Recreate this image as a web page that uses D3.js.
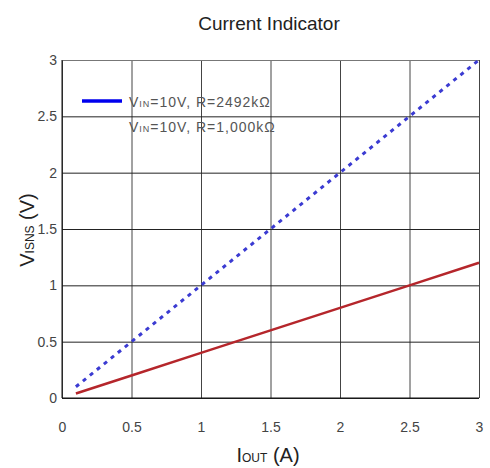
<!DOCTYPE html>
<html>
<head>
<meta charset="utf-8">
<script src="https://cdn.jsdelivr.net/npm/d3@7"></script>
<style>
  body { margin: 0; background: #fff; }
  svg { font-family: "Liberation Sans", Arial, sans-serif; }
</style>
</head>
<body>
<div class="chart"></div>
<script>
const FRAME_WIDTH = 490;
const FRAME_HEIGHT = 468;
const MARGINS = {left: 62, right: 11, top: 60, bottom: 70};

// data
const IOUT = [0.1, 0.5, 1, 1.5, 2, 2.5, 3];
const VSNS_2492 = [0.1, 0.5, 1, 1.5, 2, 2.5, 3];
const VSNS_1000 = [0.04, 0.2, 0.4, 0.6, 0.8, 1.0, 1.2];
const X_TICKS = [0, 0.5, 1, 1.5, 2, 2.5, 3];
const Y_TICKS = [0, 0.5, 1, 1.5, 2, 2.5, 3];
const LEGEND_LABELS = [["10V", "2492k\u03A9"], ["10V", "1,000k\u03A9"]];

const PLOT_WIDTH = FRAME_WIDTH - MARGINS.left - MARGINS.right;
const PLOT_HEIGHT = FRAME_HEIGHT - MARGINS.top - MARGINS.bottom;

const svg = d3.select(".chart")
              .append("svg")
              .attr("width", FRAME_WIDTH)
              .attr("height", FRAME_HEIGHT);

const X_SCALE = d3.scaleLinear().domain([0, 3]).range([0, PLOT_WIDTH]);
const Y_SCALE = d3.scaleLinear().domain([0, 3]).range([PLOT_HEIGHT, 0]);

const plot = svg.append("g")
                .attr("transform", "translate(" + MARGINS.left + "," + MARGINS.top + ")");

// grid + tick labels
const xAxis = plot.append("g")
    .attr("transform", "translate(0," + PLOT_HEIGHT + ")")
    .call(d3.axisBottom(X_SCALE).tickValues(X_TICKS)
            .tickSize(-PLOT_HEIGHT).tickPadding(24).tickFormat(d3.format("")));
xAxis.select(".domain").remove();
xAxis.selectAll("line").attr("stroke", "#444");
xAxis.selectAll("text").attr("font-size", "14px").attr("fill", "#444")
     .attr("font-family", "Liberation Sans, Arial, sans-serif");

const yAxis = plot.append("g")
    .call(d3.axisLeft(Y_SCALE).tickValues(Y_TICKS)
            .tickSize(-PLOT_WIDTH).tickPadding(5).tickFormat(d3.format("")));
yAxis.select(".domain").remove();
yAxis.selectAll("line").attr("stroke", (d) => d === 3 ? "#777" : "#222");
yAxis.selectAll("text").attr("font-size", "14px").attr("fill", "#444")
     .attr("font-family", "Liberation Sans, Arial, sans-serif");

// frame
plot.append("line").attr("x1", 0).attr("x2", 0).attr("y1", 0).attr("y2", PLOT_HEIGHT)
    .attr("stroke", "#111");
plot.append("line").attr("x1", 0).attr("x2", PLOT_WIDTH).attr("y1", PLOT_HEIGHT).attr("y2", PLOT_HEIGHT)
    .attr("stroke", "#111");

// series
const lineGen = (vals) => d3.line()
    .x((d, i) => X_SCALE(IOUT[i]))
    .y((d) => Y_SCALE(d))(vals);

plot.append("path")
    .attr("d", lineGen(VSNS_1000))
    .attr("fill", "none")
    .attr("stroke", "#b5262b")
    .attr("stroke-width", 2.5);

plot.append("path")
    .attr("d", lineGen(VSNS_2492))
    .attr("fill", "none")
    .attr("stroke", "#3b3bd2")
    .attr("stroke-width", 3)
    .attr("stroke-dasharray", "4,5");

// legend
svg.append("line")
   .attr("x1", 82).attr("x2", 122).attr("y1", 101).attr("y2", 101)
   .attr("stroke", "#0000ee").attr("stroke-width", 3.5);

LEGEND_LABELS.forEach((lab, i) => {
    const t = svg.append("text")
        .attr("x", 129).attr("y", 107 + i * 25)
        .attr("font-size", "14px").attr("fill", "#555")
        .attr("letter-spacing", "1px");
    t.append("tspan").text("V");
    t.append("tspan").attr("font-size", "9px").text("IN");
    t.append("tspan").text("=" + lab[0] + ", R=" + lab[1]);
});

// title
svg.append("text")
   .attr("x", 269).attr("y", 30)
   .attr("text-anchor", "middle")
   .attr("font-size", "19px").attr("fill", "#222")
   .text("Current Indicator");

// x label
const xl = svg.append("text")
   .attr("x", 268).attr("y", 462)
   .attr("text-anchor", "middle")
   .attr("font-size", "20px").attr("fill", "#222");
xl.append("tspan").text("I");
xl.append("tspan").attr("font-size", "12px").text("OUT");
xl.append("tspan").text(" (A)");

// y label
const yl = svg.append("text")
   .attr("transform", "translate(34,230) rotate(-90)")
   .attr("text-anchor", "middle")
   .attr("font-size", "20px").attr("fill", "#222");
yl.append("tspan").text("V");
yl.append("tspan").attr("font-size", "12px").text("ISNS");
yl.append("tspan").text(" (V)");
</script>
</body>
</html>
